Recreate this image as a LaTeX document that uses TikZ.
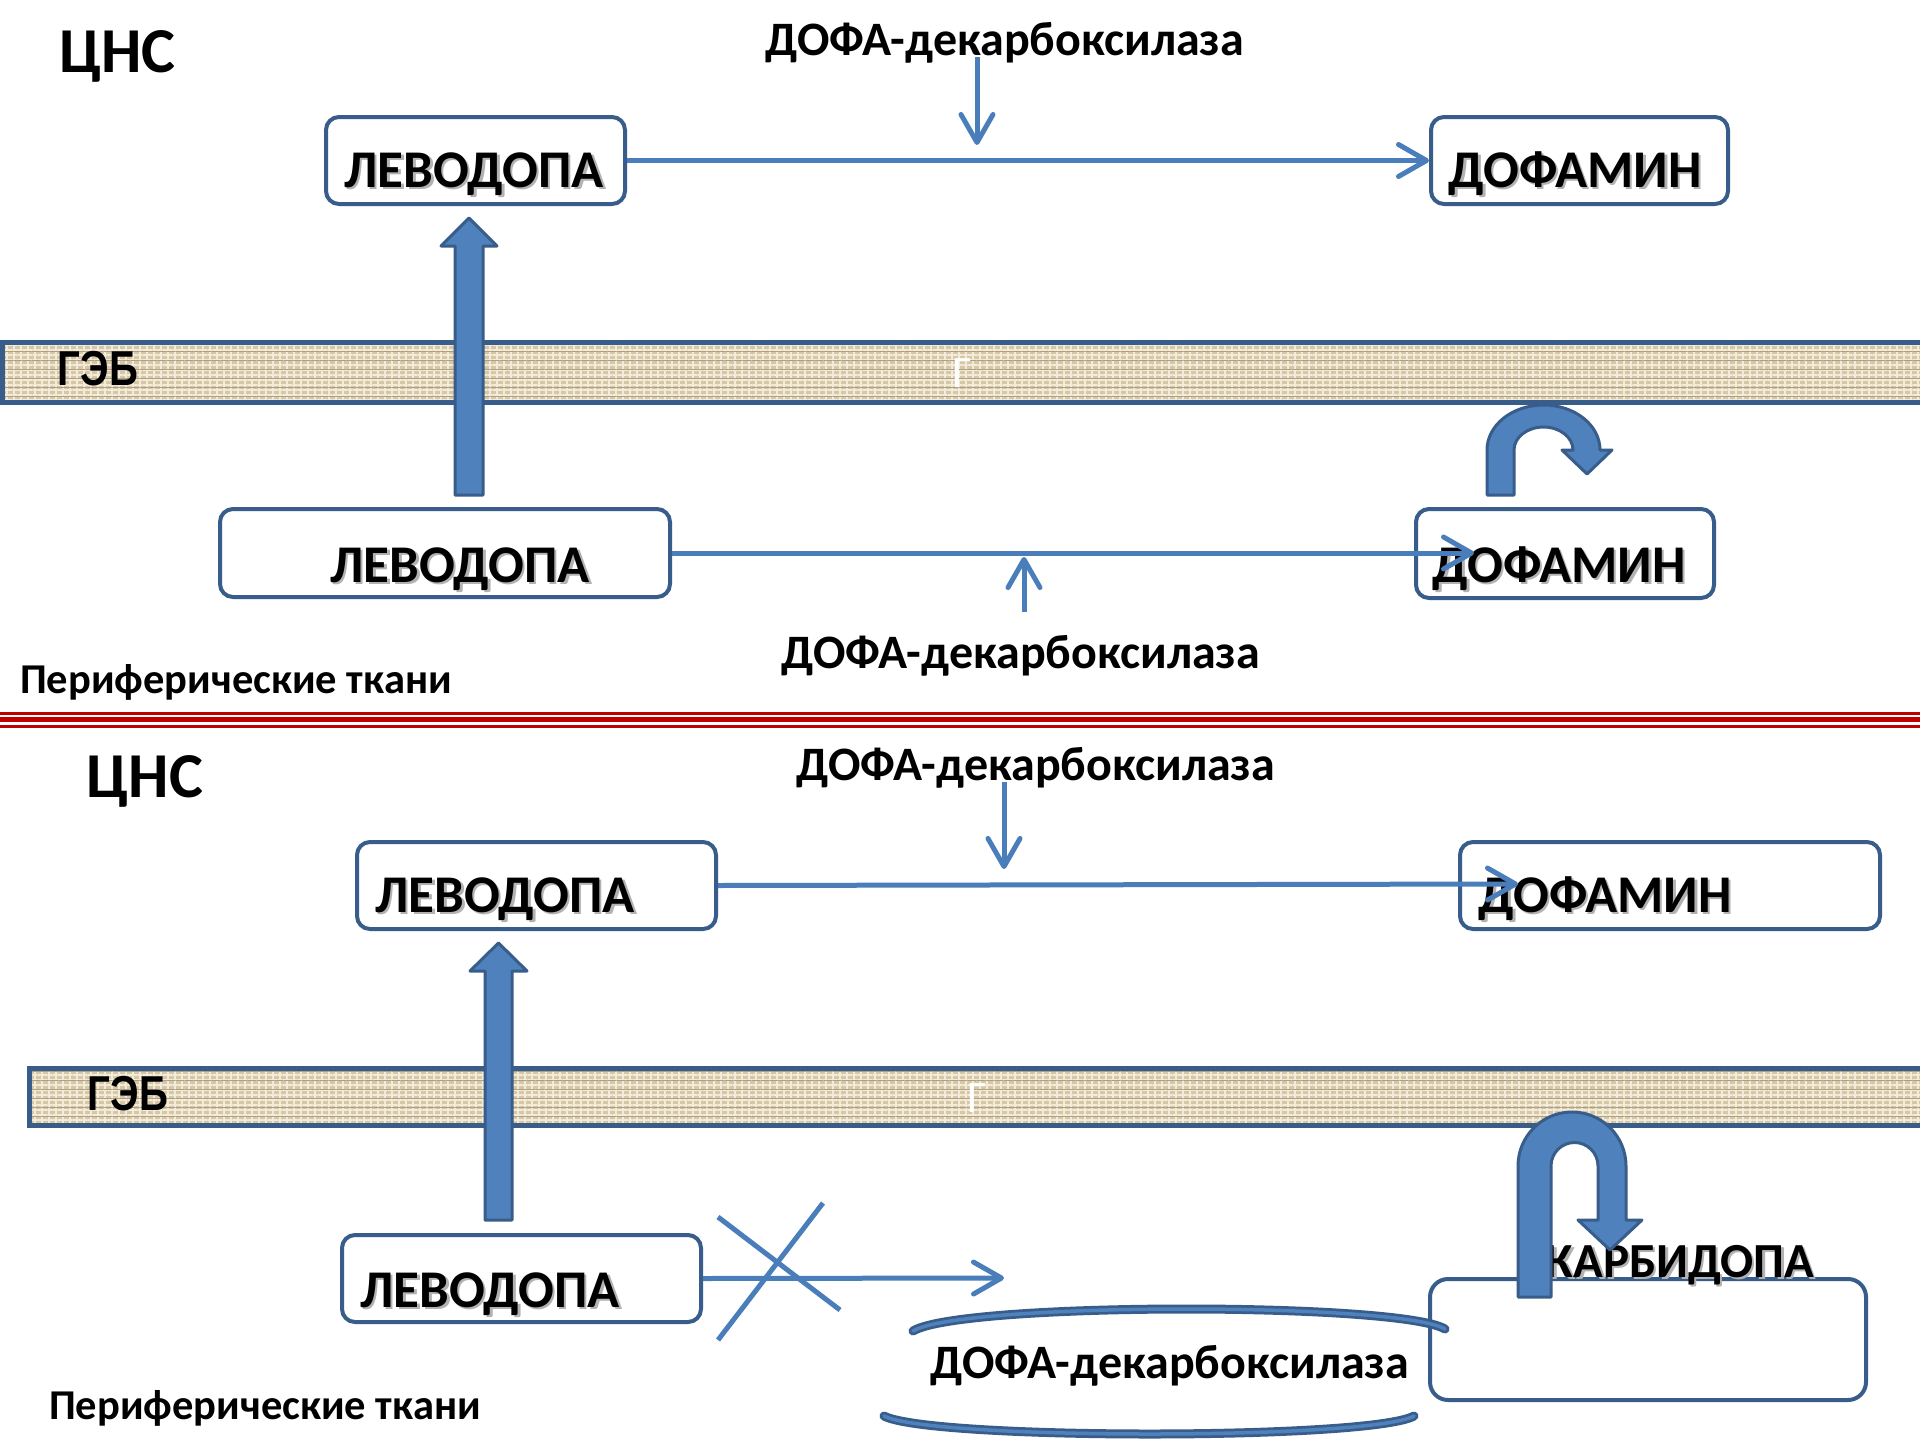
\documentclass[tikz,border=0pt]{standalone}
\usepackage{fontspec}
\setmainfont{Carlito}
\newfontfamily\narrowfont{Liberation Sans}[FakeStretch=0.82]
\usetikzlibrary{arrows.meta, positioning, patterns.meta}

\definecolor{boxline}{HTML}{385D8A}
\definecolor{arrowblue}{HTML}{4A7EBB}
\definecolor{fillblue}{HTML}{4F81BD}
\definecolor{sepred}{HTML}{C00000}
\definecolor{burlap}{RGB}{214,199,166}
\definecolor{burlaplight}{RGB}{243,236,218}
\definecolor{burlapdark}{RGB}{176,158,126}

% text with a soft drop shadow: #2 name, #3 position, #4 text
\newcommand{\castlabel}[4][molecule]{%
  \node[#1, text=black!30] (#2s) at ([shift={(2.5,2.5)}]#3) {#4};
  \node[#1] (#2) at (#3) {#4};}

\begin{document}
\begin{tikzpicture}[x=1pt, y=-1pt,
    chembox/.style={draw=boxline, line width=4pt, rounded corners=13pt,
                    fill=white, inner sep=0pt},
    molecule/.style={font=\fontsize{53}{53}\selectfont\bfseries,
                     anchor=base, inner sep=0pt},
    drug/.style={molecule, font=\fontsize{49}{49}\selectfont\bfseries},
    enzyme/.style={font=\fontsize{48}{48}\selectfont\bfseries,
                   anchor=base, inner sep=0pt},
    region/.style={font=\fontsize{42.5}{42.5}\selectfont\bfseries,
                   anchor=base, inner sep=0pt},
    cns/.style={font=\fontsize{64}{64}\selectfont\bfseries,
                anchor=base, inner sep=0pt},
    geb/.style={font=\fontsize{49}{49}\narrowfont\bfseries,
                anchor=base, inner sep=0pt},
    whitemark/.style={font=\fontsize{45}{45}\selectfont, text=white,
                      anchor=base west, inner sep=0pt},
    barrier/.style={draw=boxline, line width=5pt, inner sep=0pt,
                    preaction={fill=burlap},
                    preaction={pattern={Lines[angle=90, distance=7pt, line width=2.2pt]},
                               pattern color=burlaplight},
                    preaction={pattern={Lines[angle=0, distance=5pt, line width=1.6pt]},
                               pattern color=burlaplight},
                    preaction={pattern={Lines[angle=0, distance=9pt, line width=0.8pt]},
                               pattern color=burlapdark}},
    flow/.style={draw=arrowblue, line width=5pt,
                 -{Straight Barb[length=28pt, width=32pt, round]}},
    bigarrow/.style={fill=fillblue, draw=boxline, line width=3pt, line join=round},
    rim/.style={draw=boxline, line width=9pt, line cap=round,
                postaction={draw=fillblue, line width=3.5pt}},
    redline/.style={draw=sepred}
  ]
  \useasboundingbox[fill=white] (0,0) rectangle (1920,1440);

  % ---------- upper scheme ----------
  \node[cns] (cns1) at (117.5,72) {ЦНС};
  \node[enzyme] (ddc1) at (1005,55) {ДОФА-декарбоксилаза};
  \coordinate (e1a) at (977,57);
  \coordinate (e1b) at (977,145);

  \node[chembox, minimum width=299pt, minimum height=87pt] (lev1) at (475.5,160.5) {};
  \node[chembox, minimum width=297pt, minimum height=87pt] (dop1) at (1579.5,160.5) {};
  \castlabel{lev1t}{474,187}{ЛЕВОДОПА}
  \castlabel{dop1t}{1575,187}{ДОФАМИН}

  \draw[flow] (e1a) -- (e1b);
  \draw[flow] (lev1.east) -- (dop1.west);

  \node[barrier, minimum width=1928pt, minimum height=60pt] (bbb1) at (966,372.5) {};
  \node[geb] (geb1) at (98,385) {ГЭБ};
  \node[whitemark] (g1) at (952,387) {Г};

  \draw[bigarrow] (455,495) -- (455,246) -- (441,246) -- (469,218) -- (497,246)
    -- (483,246) -- (483,495) -- cycle;

  \node[chembox, minimum width=450pt, minimum height=88pt] (lev2) at (445,553) {};
  \node[chembox, minimum width=298pt, minimum height=89pt] (dop2) at (1565,553.5) {};
  \castlabel{lev2t}{460,582}{ЛЕВОДОПА}
  \castlabel{dop2t}{1559,582}{ДОФАМИН}
  \coordinate (d2in) at (1474,553);
  \draw[flow] (lev2.east) -- (d2in);

  \node[enzyme] (ddc2) at (1021,668) {ДОФА-декарбоксилаза};
  \coordinate (e2a) at (1024,612);
  \coordinate (e2b) at (1024,557);
  \draw[flow] (e2a) -- (e2b);

  \draw[bigarrow] (1487,495) -- (1487,450)
    arc[start angle=180, end angle=0, x radius=56.5pt, y radius=45pt]
    -- (1612,450) -- (1587,474) -- (1562,450) -- (1573,450)
    arc[start angle=0, end angle=180, x radius=29.5pt, y radius=23pt]
    -- (1514,495) -- cycle;

  \node[region] (per1) at (236,693) {Периферические ткани};

  \draw[redline, line width=3pt] (0,713) -- (1920,713);
  \draw[redline, line width=5.5pt] (0,719.5) -- (1920,719.5);
  \draw[redline, line width=3pt] (0,726) -- (1920,726);

  % ---------- lower scheme ----------
  \node[cns] (cns2) at (145,797) {ЦНС};
  \node[enzyme] (ddc3) at (1036,780) {ДОФА-декарбоксилаза};
  \coordinate (e3a) at (1004,782);
  \coordinate (e3b) at (1004,869);

  \node[chembox, minimum width=359pt, minimum height=87pt] (lev3) at (536.5,885.5) {};
  \node[chembox, minimum width=420pt, minimum height=87pt] (dop3) at (1670,885.5) {};
  \castlabel{lev3t}{505,912}{ЛЕВОДОПА}
  \castlabel{dop3t}{1605,912}{ДОФАМИН}

  \draw[flow] (e3a) -- (e3b);
  \coordinate (d3in) at (1518,884);
  \draw[flow] (lev3.east) -- (d3in);

  \node[barrier, minimum width=1901pt, minimum height=57.5pt] (bbb2) at (979.5,1096.75) {};
  \node[geb] (geb2) at (128,1110) {ГЭБ};
  \node[whitemark] (g2) at (967,1112) {Г};

  \draw[bigarrow] (485,1220) -- (485,971) -- (470,971) -- (498.5,943) -- (527,971)
    -- (512,971) -- (512,1220) -- cycle;

  \node[chembox, minimum width=359pt, minimum height=87pt] (lev4) at (521.5,1278.5) {};
  \castlabel{lev4t}{490,1307}{ЛЕВОДОПА}

  \coordinate (blk) at (1004,1278);
  \draw[flow] (lev4.east) -- (blk);
  \draw[arrowblue, line width=5pt] (718,1217) -- (840,1310);
  \draw[arrowblue, line width=5pt] (823,1203) -- (718,1340);

  \node[chembox, rounded corners=18pt, minimum width=436pt, minimum height=121pt]
    (carb) at (1648,1339.5) {};

  \draw[rim] (913,1331) .. controls (960,1302) and (1400,1302) .. (1445,1329);
  \draw[rim] (884,1416) .. controls (930,1440) and (1370,1440) .. (1414,1416);
  \node[enzyme] (ddc4) at (1170,1378) {ДОФА-декарбоксилаза};

  \castlabel[drug]{carbt}{1680,1277}{КАРБИДОПА}

  \draw[bigarrow] (1518,1297) -- (1518,1166)
    arc[start angle=180, end angle=0, radius=54pt]
    -- (1626,1220) -- (1642,1220) -- (1610,1250) -- (1578,1220) -- (1598,1220)
    -- (1598,1166) arc[start angle=0, end angle=180, radius=23.5pt]
    -- (1551,1297) -- cycle;

  \node[region] (per2) at (265,1419) {Периферические ткани};
\end{tikzpicture}
\end{document}
